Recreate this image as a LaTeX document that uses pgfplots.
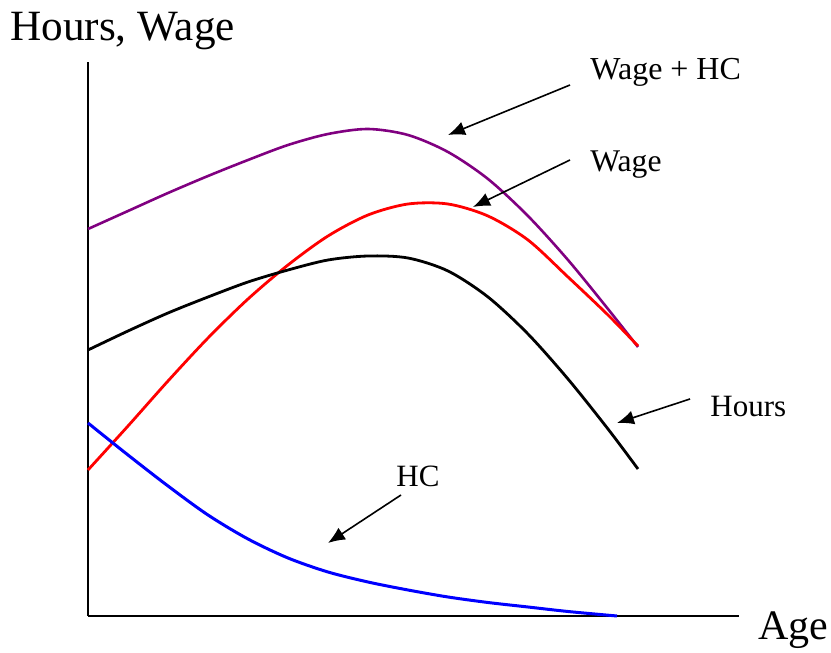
\documentclass[border=0pt]{standalone}
\usepackage{fontspec}
\setmainfont{Liberation Serif}
\usepackage{pgfplots}
\pgfplotsset{compat=1.18}
\usetikzlibrary{arrows.meta}
\definecolor{wagehc}{RGB}{128,0,128}

\begin{document}
\begin{tikzpicture}
  \begin{axis}[
      width=325.5pt, height=277pt, scale only axis,
      xmin=0, xmax=651, ymin=0, ymax=554,
      axis x line=bottom, axis y line=left,
      axis line style={-, line width=1pt},
      xtick=\empty, ytick=\empty,
      clip=false,
    ]
    % Wage + HC
    \addplot[smooth, color=wagehc, line width=1.3pt] coordinates {
      (0,387) (40,405) (80,423) (120,440) (160,456) (200,471) (240,482)
      (280,487) (320,481) (360,464) (400,437) (440,400) (480,356) (520,307) (550,269)
    };
    % Wage
    \addplot[smooth, color=red, line width=1.4pt] coordinates {
      (0,146) (40,190) (80,235) (120,278) (160,317) (200,351) (240,380)
      (280,401) (320,412) (360,412) (400,400) (440,376) (480,339) (520,301) (550,270)
    };
    % Hours
    \addplot[smooth, color=black, line width=1.4pt] coordinates {
      (0,266) (40,285) (80,303) (120,319) (160,334) (200,346) (240,356)
      (280,360) (320,358) (360,345) (400,319) (440,282) (480,237) (520,187) (550,147)
    };
    % HC
    \addplot[smooth, color=blue, line width=1.5pt] coordinates {
      (0,193) (40,161) (80,130) (120,101) (160,77) (200,58) (240,44)
      (280,34) (320,26) (360,19) (400,13.5) (440,9) (480,4.5) (529,0)
    };

    % labels
    \node[anchor=base west, font=\fontsize{21.6}{25}\selectfont, inner sep=0pt] at (axis cs:-78,575) {Hours, Wage};
    \node[anchor=base west, font=\fontsize{21}{25}\selectfont, inner sep=0pt] at (axis cs:670,-24) {Age};
    \node[anchor=base west, font=\fontsize{16}{18}\selectfont, inner sep=0pt] at (axis cs:502,536) {Wage + HC};
    \node[anchor=base west, font=\fontsize{15.8}{18}\selectfont, inner sep=0pt] at (axis cs:502,444) {Wage};
    \node[anchor=base west, font=\fontsize{15.5}{18}\selectfont, inner sep=0pt] at (axis cs:622,199) {Hours};
    \node[anchor=base west, font=\fontsize{15.5}{18}\selectfont, inner sep=0pt] at (axis cs:308,129) {HC};

    % arrows
    \draw[-{Latex[length=8.5pt,width=7pt]}, line width=0.8pt] (axis cs:482,531) -- (axis cs:360,481);
    \draw[-{Latex[length=8.5pt,width=7pt]}, line width=0.8pt] (axis cs:482,456) -- (axis cs:385,409);
    \draw[-{Latex[length=8.5pt,width=7pt]}, line width=0.8pt] (axis cs:602,217) -- (axis cs:529,193);
    \draw[-{Latex[length=8.5pt,width=7pt]}, line width=0.8pt] (axis cs:313,121) -- (axis cs:240,73);

    \coordinate (bbA) at (axis cs:-88,616);
    \coordinate (bbB) at (axis cs:743,-37);
  \end{axis}
  \pgfresetboundingbox
  \path[use as bounding box] (bbA) rectangle (bbB);
\end{tikzpicture}
\end{document}
